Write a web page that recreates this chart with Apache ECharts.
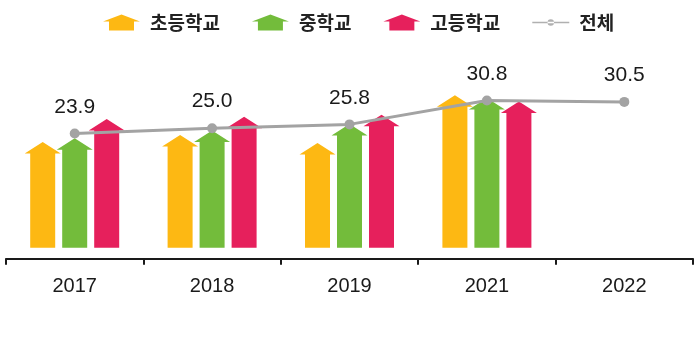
<!DOCTYPE html>
<html><head><meta charset="utf-8">
<script src="https://cdn.jsdelivr.net/npm/echarts@6/dist/echarts.min.js"></script>
<style>html,body{margin:0;padding:0;background:#fff}#c{width:700px;height:337px}</style>
</head><body><div id="c"></div>
<script>
const years = ['2017','2018','2019','2021','2022'];
const elementary = [22.1, 23.6, 21.9, 31.9, null];
const middle = [22.9, 24.5, 25.9, 31.3, null];
const high = [26.9, 27.4, 27.8, 30.6, null];
const total = [23.9, 25.0, 25.8, 30.8, 30.5];
const names = ['초등학교','중학교','고등학교','전체'];
const colors = ['#FDB813','#73BC3B','#E6205C','#A3A3A3'];

const arrowIcon = 'path://M0,7 L18.5,0 L37,7 L31,7 L31,16 L6,16 L6,7 Z';
const lineIcon = 'path://M0,3 L40,3 L40,4.6 L0,4.6 Z M16.5,3.8 A3.5,3.5 0 1 0 23.5,3.8 A3.5,3.5 0 1 0 16.5,3.8 Z';

function arrowSeries(name, data, color, offset) {
  return {
    name: name, type: 'custom', z: 2,
    itemStyle: {color: color},
    data: data.map((v, i) => [i, v == null ? '-' : v]),
    renderItem: function (params, api) {
      const v = api.value(1);
      if (v === '-' || isNaN(v)) return null;
      const top = api.coord([api.value(0), v]);
      const base = api.coord([api.value(0), 0]);
      const x = top[0] + offset, t = top[1], b = base[1];
      const bw = 25, hw = 36, hh = 11.5;
      return {
        type: 'polygon',
        shape: {points: [[x-bw/2,b],[x-bw/2,t+hh],[x-hw/2,t+hh],[x,t],[x+hw/2,t+hh],[x+bw/2,t+hh],[x+bw/2,b]]},
        style: {fill: color}
      };
    }
  };
}

const chart = echarts.init(document.getElementById('c'), null, {renderer: 'canvas'});
chart.setOption({
  animation: false,
  textStyle: {fontFamily: 'Liberation Sans, Arial, sans-serif'},
  legend: {
    top: 8, left: 98, itemWidth: 37, itemHeight: 16, itemGap: 32,
    textStyle: {fontFamily: '"Noto Sans CJK KR", sans-serif', fontWeight: 'bold', fontSize: 19, color: '#222', padding: [0,0,0,5]},
    data: [
      {name: names[0], icon: arrowIcon, itemStyle: {color: colors[0]}},
      {name: names[1], icon: arrowIcon, itemStyle: {color: colors[1]}},
      {name: names[2], icon: arrowIcon, itemStyle: {color: colors[2]}},
      {name: names[3], icon: lineIcon, itemStyle: {color: '#B0B0B0'}}
    ]
  },
  grid: {left: 6, right: 7, top: 56.5, bottom: 89.3},
  xAxis: {
    type: 'category', data: years, offset: 11,
    axisLine: {onZero: false, lineStyle: {color: '#1a1a1a', width: 2}},
    axisTick: {show: true, length: 6, lineStyle: {color: '#1a1a1a', width: 2}},
    axisLabel: {fontSize: 20, color: '#1a1a1a', margin: 18}
  },
  yAxis: {type: 'value', min: 0, max: 40, show: false, splitLine: {show: false}},
  series: [
    arrowSeries(names[0], elementary, colors[0], -32),
    arrowSeries(names[1], middle, colors[1], 0),
    arrowSeries(names[2], high, colors[2], 32),
    {
      name: names[3], type: 'line', z: 5, data: total,
      symbol: 'circle', symbolSize: 10,
      lineStyle: {color: colors[3], width: 3},
      itemStyle: {color: colors[3]},
      label: {show: true, position: 'top', distance: 11, fontSize: 21, color: '#1a1a1a',
        formatter: p => p.value.toFixed(1)}
    }
  ]
});
</script></body></html>
